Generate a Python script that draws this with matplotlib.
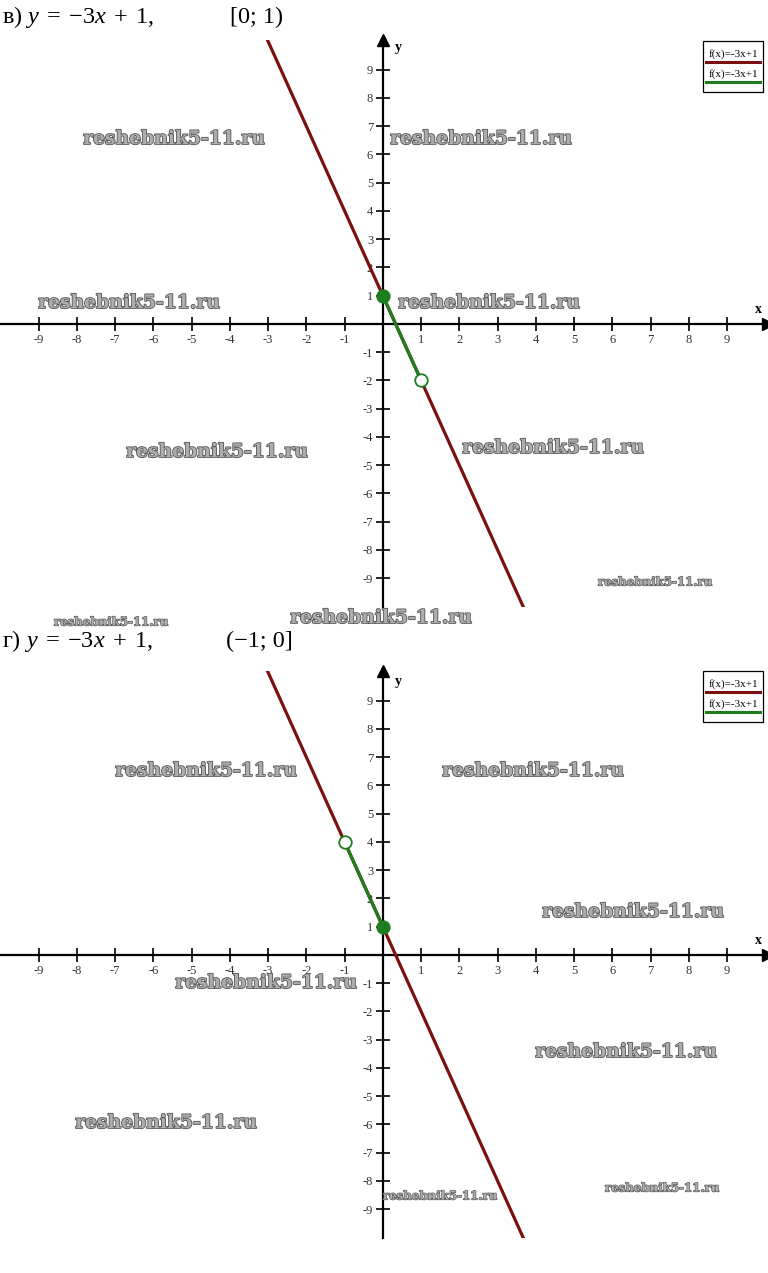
import matplotlib
matplotlib.use("Agg")
import matplotlib.pyplot as plt
import matplotlib.patheffects as pe
from matplotlib.ticker import FixedLocator
from matplotlib.patches import Rectangle
from matplotlib.lines import Line2D

# ---- data ----
titles_left = [r"в) $y\;=\;{-}3x\;+\;1,$", r"г) $y\;=\;{-}3x\;+\;1,$"]
titles_right = ["[0; 1)", "(−1; 0]"]
tick_vals = [-9, -8, -7, -6, -5, -4, -3, -2, -1, 1, 2, 3, 4, 5, 6, 7, 8, 9]
tick_labels = [str(v) for v in tick_vals]
grid_vals = list(range(-9, 10))
legend_labels = ["f(x)=-3x+1", "f(x)=-3x+1"]

# full line y = -3x + 1 (endpoints at the plot edges)
red_x = [-3.1, 3.75]
red_y = [10.3, -10.25]
# highlighted segments
seg1_x = [0, 1]
seg1_y = [1, -2]
seg2_x = [-1, 0]
seg2_y = [4, 1]
# endpoints: (x, y, closed?)
pts1 = [(0, 1, True), (1, -2, False)]
pts2 = [(-1, 4, False), (0, 1, True)]

RED = "#7b1010"
GREEN = "#1e7d1e"

plt.rcParams["mathtext.fontset"] = "custom"
plt.rcParams["mathtext.rm"] = "Liberation Serif"
plt.rcParams["mathtext.it"] = "Liberation Serif:italic"

W, H = 768, 1273
fig = plt.figure(figsize=(W / 100, H / 100), dpi=100)


def fx(px):
    return px / W


def fy(py):
    return 1 - py / H


def make_panel(top_px, bot_px, seg_x, seg_y, pts):
    ax = fig.add_axes([0, fy(bot_px), 1, (bot_px - top_px) / H])
    ax.set_xlim(-10.01, 10.07)
    ax.set_ylim(-10.02, 10.05)
    for s in ["top", "right"]:
        ax.spines[s].set_visible(False)
    ax.spines["left"].set_position("zero")
    ax.spines["bottom"].set_position("zero")
    for s in ["left", "bottom"]:
        ax.spines[s].set_linewidth(1.6)
        ax.spines[s].set_zorder(3)
    ax.xaxis.set_major_locator(FixedLocator(tick_vals))
    ax.yaxis.set_major_locator(FixedLocator(tick_vals))
    ax.set_xticklabels(tick_labels)
    ax.set_yticklabels(tick_labels)
    ax.xaxis.set_minor_locator(FixedLocator(grid_vals))
    ax.yaxis.set_minor_locator(FixedLocator(grid_vals))
    ax.tick_params(which="major", direction="inout", length=10, width=1.2,
                   labelsize=9, labelcolor="#333333", pad=2)
    ax.tick_params(which="minor", length=0)
    for lab in ax.get_xticklabels() + ax.get_yticklabels():
        lab.set_family("Liberation Serif")
    ax.grid(True, which="minor", color="#e2e2e2", lw=1.3)
    ax.set_axisbelow(True)
    # arrows
    ax.plot(1, 0, ">k", ms=8, transform=ax.get_yaxis_transform(), clip_on=False, zorder=4)
    ax.plot(0, 1, "^k", ms=8, transform=ax.get_xaxis_transform(), clip_on=False, zorder=4)
    # lines
    ax.plot(red_x, red_y, color=RED, lw=2.3, zorder=5, solid_capstyle="butt")
    ax.plot(seg_x, seg_y, color=GREEN, lw=2.3, zorder=6)
    for x, y, closed in pts:
        ax.plot(x, y, "o", ms=9, mfc=GREEN if closed else "white",
                mec=GREEN, mew=1.3, zorder=7)
    return ax


ax1 = make_panel(40, 607, seg1_x, seg1_y, pts1)
ax2 = make_panel(671, 1238, seg2_x, seg2_y, pts2)

# axis letters
for ypx_y, ypx_x in [(48, 310), (681, 941)]:
    fig.text(fx(398), fy(ypx_y), "y", family="Liberation Serif", weight="bold",
             fontsize=10, ha="center", va="center")
    fig.text(fx(758), fy(ypx_x), "x", family="Liberation Serif", weight="bold",
             fontsize=10, ha="center", va="center")

# titles
for (ty, tl, tr, rx) in [(17, titles_left[0], titles_right[0], 230),
                         (641, titles_left[1], titles_right[1], 226)]:
    fig.text(fx(2), fy(ty), tl, family="Liberation Serif", fontsize=17.5,
             ha="left", va="center")
    fig.text(fx(rx), fy(ty), tr, family="Liberation Serif", fontsize=17.5,
             ha="left", va="center")

# legends
for top in [41, 671]:
    fig.add_artist(Rectangle((fx(703), fy(top + 51)), fx(60), 51 / H,
                             transform=fig.transFigure, facecolor="white",
                             edgecolor="black", lw=0.9, zorder=10))
    for i, col in enumerate([RED, GREEN]):
        fig.text(fx(733), fy(top + 13 + 20 * i), legend_labels[i],
                 family="Liberation Serif", fontsize=8, ha="center",
                 va="center", zorder=11)
        fig.add_artist(Line2D([fx(706), fx(760)], [fy(top + 21 + 20 * i)] * 2,
                              transform=fig.transFigure, color=col, lw=2.2,
                              zorder=11))

# watermarks
wm = "reshebnik5-11.ru"
big = [(174, 139), (481, 139), (129, 303), (489, 303), (217, 452), (553, 448),
       (381, 618), (206, 771), (533, 771), (633, 912), (266, 983), (626, 1052),
       (166, 1123)]
small = [(655, 582), (111, 622), (440, 1196), (662, 1188)]
for (x, y) in big:
    fig.text(fx(x), fy(y), wm, family="DejaVu Serif", weight="bold", fontsize=13.5,
             color="#adadad", ha="center", va="center", zorder=20,
             path_effects=[pe.withStroke(linewidth=1.2, foreground="#555555")])
for (x, y) in small:
    fig.text(fx(x), fy(y), wm, family="DejaVu Serif", weight="bold", fontsize=8.5,
             color="#adadad", ha="center", va="center", zorder=20,
             path_effects=[pe.withStroke(linewidth=0.9, foreground="#555555")])

fig.savefig("out.png", dpi=100)
